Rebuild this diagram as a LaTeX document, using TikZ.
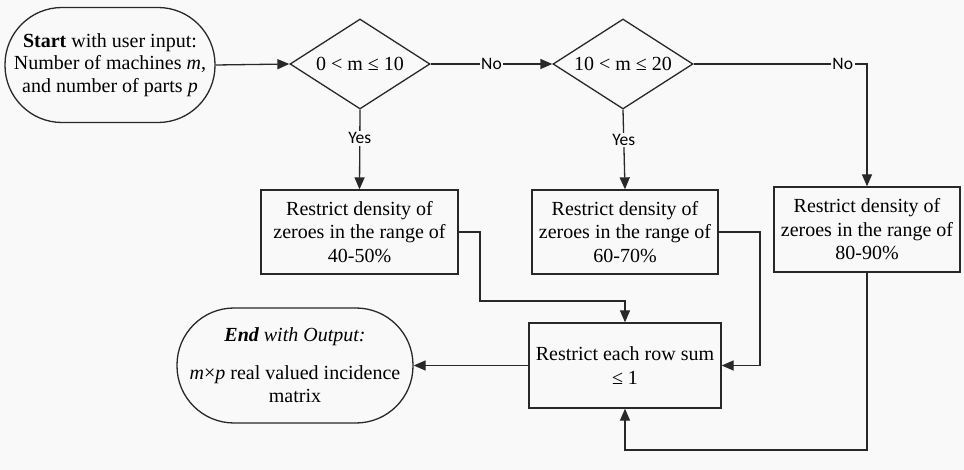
\documentclass[tikz,border=0pt]{standalone}
\usepackage{fontspec}
\setmainfont{Liberation Serif}
\newfontfamily\lblfont{Carlito}
\usetikzlibrary{shapes.geometric,arrows.meta}
\definecolor{bg}{RGB}{249,249,249}
\definecolor{ln}{RGB}{40,40,40}
\begin{document}
\begin{tikzpicture}[x=1pt,y=-1pt,
  txt/.style={font=\fontsize{20}{23.5}\selectfont, text=black, align=center},
  box/.style={txt, draw=ln, line width=1.3pt, inner sep=0pt},
  term/.style={box, rounded corners=57pt},
  dec/.style={box, shape=diamond, minimum width=140pt, minimum height=90pt},
  arr/.style={draw=ln, line width=1.3pt, -{Triangle[length=12pt,width=10pt]}},
  lbl/.style={font=\lblfont\fontsize{17.5}{17.5}\selectfont, fill=bg, inner sep=1.5pt, text=black}]
\fill[bg] (0,0) rectangle (964,470);
\useasboundingbox (0,0) rectangle (964,470);

\node[term, minimum width=210pt, minimum height=115pt, font=\fontsize{20}{22.5}\selectfont] (start) at (110,65)
  {\textbf{Start} with user input:\\Number of machines \textit{m},\\and number of parts \textit{p}};
\node[dec] (d1) at (360,64) {\makebox[0pt]{0 < m ≤ 10}};
\node[dec] (d2) at (623,64) {\makebox[0pt]{10 < m ≤ 20}};

\node[box, minimum width=197pt, minimum height=84pt] (b1) at (359.5,232)
  {Restrict density of\\zeroes in the range of\\40-50\%};
\node[box, minimum width=186pt, minimum height=84pt] (b2) at (625,232)
  {Restrict density of\\zeroes in the range of\\60-70\%};
\node[box, minimum width=186pt, minimum height=85pt] (b3) at (867,229.5)
  {Restrict density of\\zeroes in the range of\\80-90\%};
\node[box, minimum width=192pt, minimum height=85pt] (b4) at (625,365.5)
  {Restrict each row sum\\≤ 1};
\node[term, minimum width=236pt, minimum height=115pt] (end) at (295,365.5)
  {\textit{\textbf{End} with Output:}\\[14pt]\textit{m}×\textit{p} real valued incidence\\matrix};

\coordinate (k1) at (480,301);
\coordinate (k2) at (760,300);
\coordinate (k3) at (745,450);
\coordinate (c3) at (867,64);

\draw[arr] (start.east) -- (d1.west);
\draw[arr] (d1.east) -- node[lbl]{No} (d2.west);
\draw[arr] (d2.east) -- node[lbl,pos=0.86]{No} (c3) -- (b3.north);
\draw[arr] (d1.south) -- node[lbl,pos=0.36]{Yes} (b1.north);
\draw[arr] (d2.south) -- node[lbl,pos=0.38]{Yes} (b2.north);
\draw[arr] (b1.east) -| (k1) -| (b4.north);
\draw[arr] (b2.east) -| (k2) |- (b4.east);
\draw[arr] (b3.south) |- (k3) -| (b4.south);
\draw[arr] (b4.west) -- (end.east);
\end{tikzpicture}
\end{document}
